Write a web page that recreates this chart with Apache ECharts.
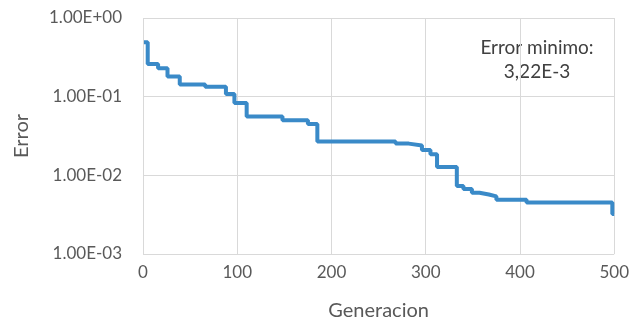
<!DOCTYPE html>
<html>
<head>
<meta charset="utf-8">
<script src="https://cdn.jsdelivr.net/npm/echarts@6/dist/echarts.min.js"></script>
<style>
  html, body { margin: 0; padding: 0; background: #ffffff; }
  #chart { width: 632px; height: 326px; }
</style>
</head>
<body>
<div id="chart"></div>
<script>
// Generation at which the best error changes, and the new best error from there on
const generations = [1, 5, 16, 26, 39, 66, 88, 97, 110, 148, 175, 185, 268, 282, 296, 305, 312, 333, 340, 349, 357, 367, 375, 407, 498];
const errors = [0.49, 0.26, 0.23, 0.18, 0.143, 0.134, 0.108, 0.083, 0.056, 0.050, 0.045, 0.027, 0.0253, 0.024, 0.021, 0.0185, 0.0128, 0.0073, 0.0067, 0.0060, 0.0057, 0.0054, 0.0049, 0.0045, 0.00322];
const lastGeneration = 500;

const xTickLabels = ['0', '100', '200', '300', '400', '500'];
const yTickLabels = ['1.00E-03', '1.00E-02', '1.00E-01', '1.00E+00'];

const minLabel = ['Error minimo:', '3,22E-3'];

const points = generations.map((g, i) => [g, errors[i]]);
points.push([lastGeneration, errors[errors.length - 1]]);

const textColor = '#595959';
const font = 'Lato';

const chart = echarts.init(document.getElementById('chart'));
chart.setOption({
  animation: false,
  backgroundColor: '#ffffff',
  grid: { left: 143, right: 16, top: 18, bottom: 67 },
  xAxis: {
    type: 'value',
    min: 0,
    max: 500,
    interval: 100,
    name: 'Generacion',
    nameLocation: 'middle',
    nameGap: 47,
    nameTextStyle: { color: textColor, fontFamily: font, fontSize: 20 },
    axisLine: { show: false },
    axisTick: { show: false },
    axisLabel: {
      color: textColor, fontFamily: font, fontSize: 17, margin: 10,
      formatter: v => xTickLabels[Math.round(v / 100)]
    },
    splitLine: { show: true, lineStyle: { color: '#d9d9d9', width: 1 } }
  },
  yAxis: {
    type: 'log',
    logBase: 10,
    min: 0.001,
    max: 1,
    name: 'Error',
    nameLocation: 'middle',
    nameGap: 111,
    nameRotate: 90,
    nameTextStyle: { color: textColor, fontFamily: font, fontSize: 20 },
    axisLine: { show: false },
    axisTick: { show: false },
    axisLabel: {
      color: textColor, fontFamily: font, fontSize: 17, margin: 21,
      formatter: v => yTickLabels[Math.round(Math.log10(v)) + 3]
    },
    splitLine: { show: true, lineStyle: { color: '#d9d9d9', width: 1 } }
  },
  series: [{
    type: 'line',
    step: 'end',
    data: points,
    showSymbol: false,
    lineStyle: { color: '#3A8AC8', width: 4 },
    clip: true
  }],
  graphic: [{
    type: 'text',
    x: 537,
    y: 36,
    style: {
      text: minLabel.join('\n'),
      align: 'center',
      verticalAlign: 'top',
      fill: '#404040',
      font: '19px "' + font + '"',
      lineHeight: 24
    }
  }]
});
</script>
</body>
</html>
